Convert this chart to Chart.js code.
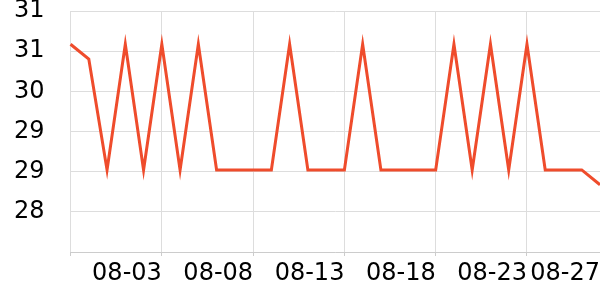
<!DOCTYPE html>
<html>
<head>
<meta charset="utf-8">
<script src="https://cdn.jsdelivr.net/npm/chart.js@4"></script>
<style>
  html, body { margin: 0; padding: 0; background: #fff; }
  #wrap { width: 600px; height: 300px; position: relative; }
</style>
</head>
<body>
<div id="wrap"><canvas id="c"></canvas></div>
<script>
const categories = ['07-29','07-30','07-31','08-01','08-02','08-03','08-04','08-05','08-06','08-07',
  '08-08','08-09','08-10','08-11','08-12','08-13','08-14','08-15','08-16','08-17',
  '08-18','08-19','08-20','08-21','08-22','08-23','08-24','08-25','08-26','08-27'];
const values = [30.7, 30.5, 29.0, 30.7, 29.0, 30.7, 29.0, 30.7, 29.0, 29.0,
  29.0, 29.0, 30.7, 29.0, 29.0, 29.0, 30.7, 29.0, 29.0, 29.0,
  29.0, 30.7, 29.0, 30.7, 29.0, 30.7, 29.0, 29.0, 29.0, 28.8];
const xTickIndices = [0, 5, 10, 15, 20, 25, 29];
const yMin = 27.89;
const yMax = 31.15;
const yTickLabels = ['', '28', '29', '29', '30', '31', '31'];

const FONT = 'DejaVu Sans';

new Chart(document.getElementById('c'), {
  type: 'line',
  data: {
    labels: categories,
    datasets: [{
      data: values,
      borderColor: '#ef4c2c',
      borderWidth: 3,
      pointRadius: 0,
      pointHoverRadius: 0,
      tension: 0,
      fill: false
    }]
  },
  options: {
    responsive: true,
    maintainAspectRatio: false,
    animation: false,
    layout: { padding: { left: 14, right: 0, top: 0, bottom: 8 } },
    plugins: { legend: { display: false }, tooltip: { enabled: false } },
    scales: {
      x: {
        type: 'category',
        afterBuildTicks: (axis) => {
          axis.ticks = axis.ticks.filter(t => xTickIndices.includes(t.value));
        },
        ticks: {
          autoSkip: false,
          maxRotation: 0,
          minRotation: 0,
          align: 'end',
          padding: 0,
          color: '#000',
          font: { family: FONT, size: 24, lineHeight: 1.5 },
          callback: function (val) { return val === 0 ? '' : this.getLabelForValue(val); }
        },
        grid: { color: '#dddddd', tickColor: '#cccccc', tickLength: 4, drawTicks: true },
        border: { display: true, color: '#cccccc' }
      },
      y: {
        min: yMin,
        max: yMax,
        afterBuildTicks: (axis) => {
          const n = yTickLabels.length - 1;
          const t = [];
          for (let i = 0; i <= n; i++) t.push({ value: yMin + (yMax - yMin) * i / n });
          axis.ticks = t;
        },
        ticks: {
          padding: 0,
          color: '#000',
          font: { family: FONT, size: 24, lineHeight: 22 / 24 },
          callback: (val, i) => yTickLabels[i]
        },
        grid: { color: '#dddddd', tickColor: 'rgba(0,0,0,0)', tickLength: 26, drawTicks: true },
        border: { display: false }
      }
    }
  }
});
</script>
</body>
</html>
